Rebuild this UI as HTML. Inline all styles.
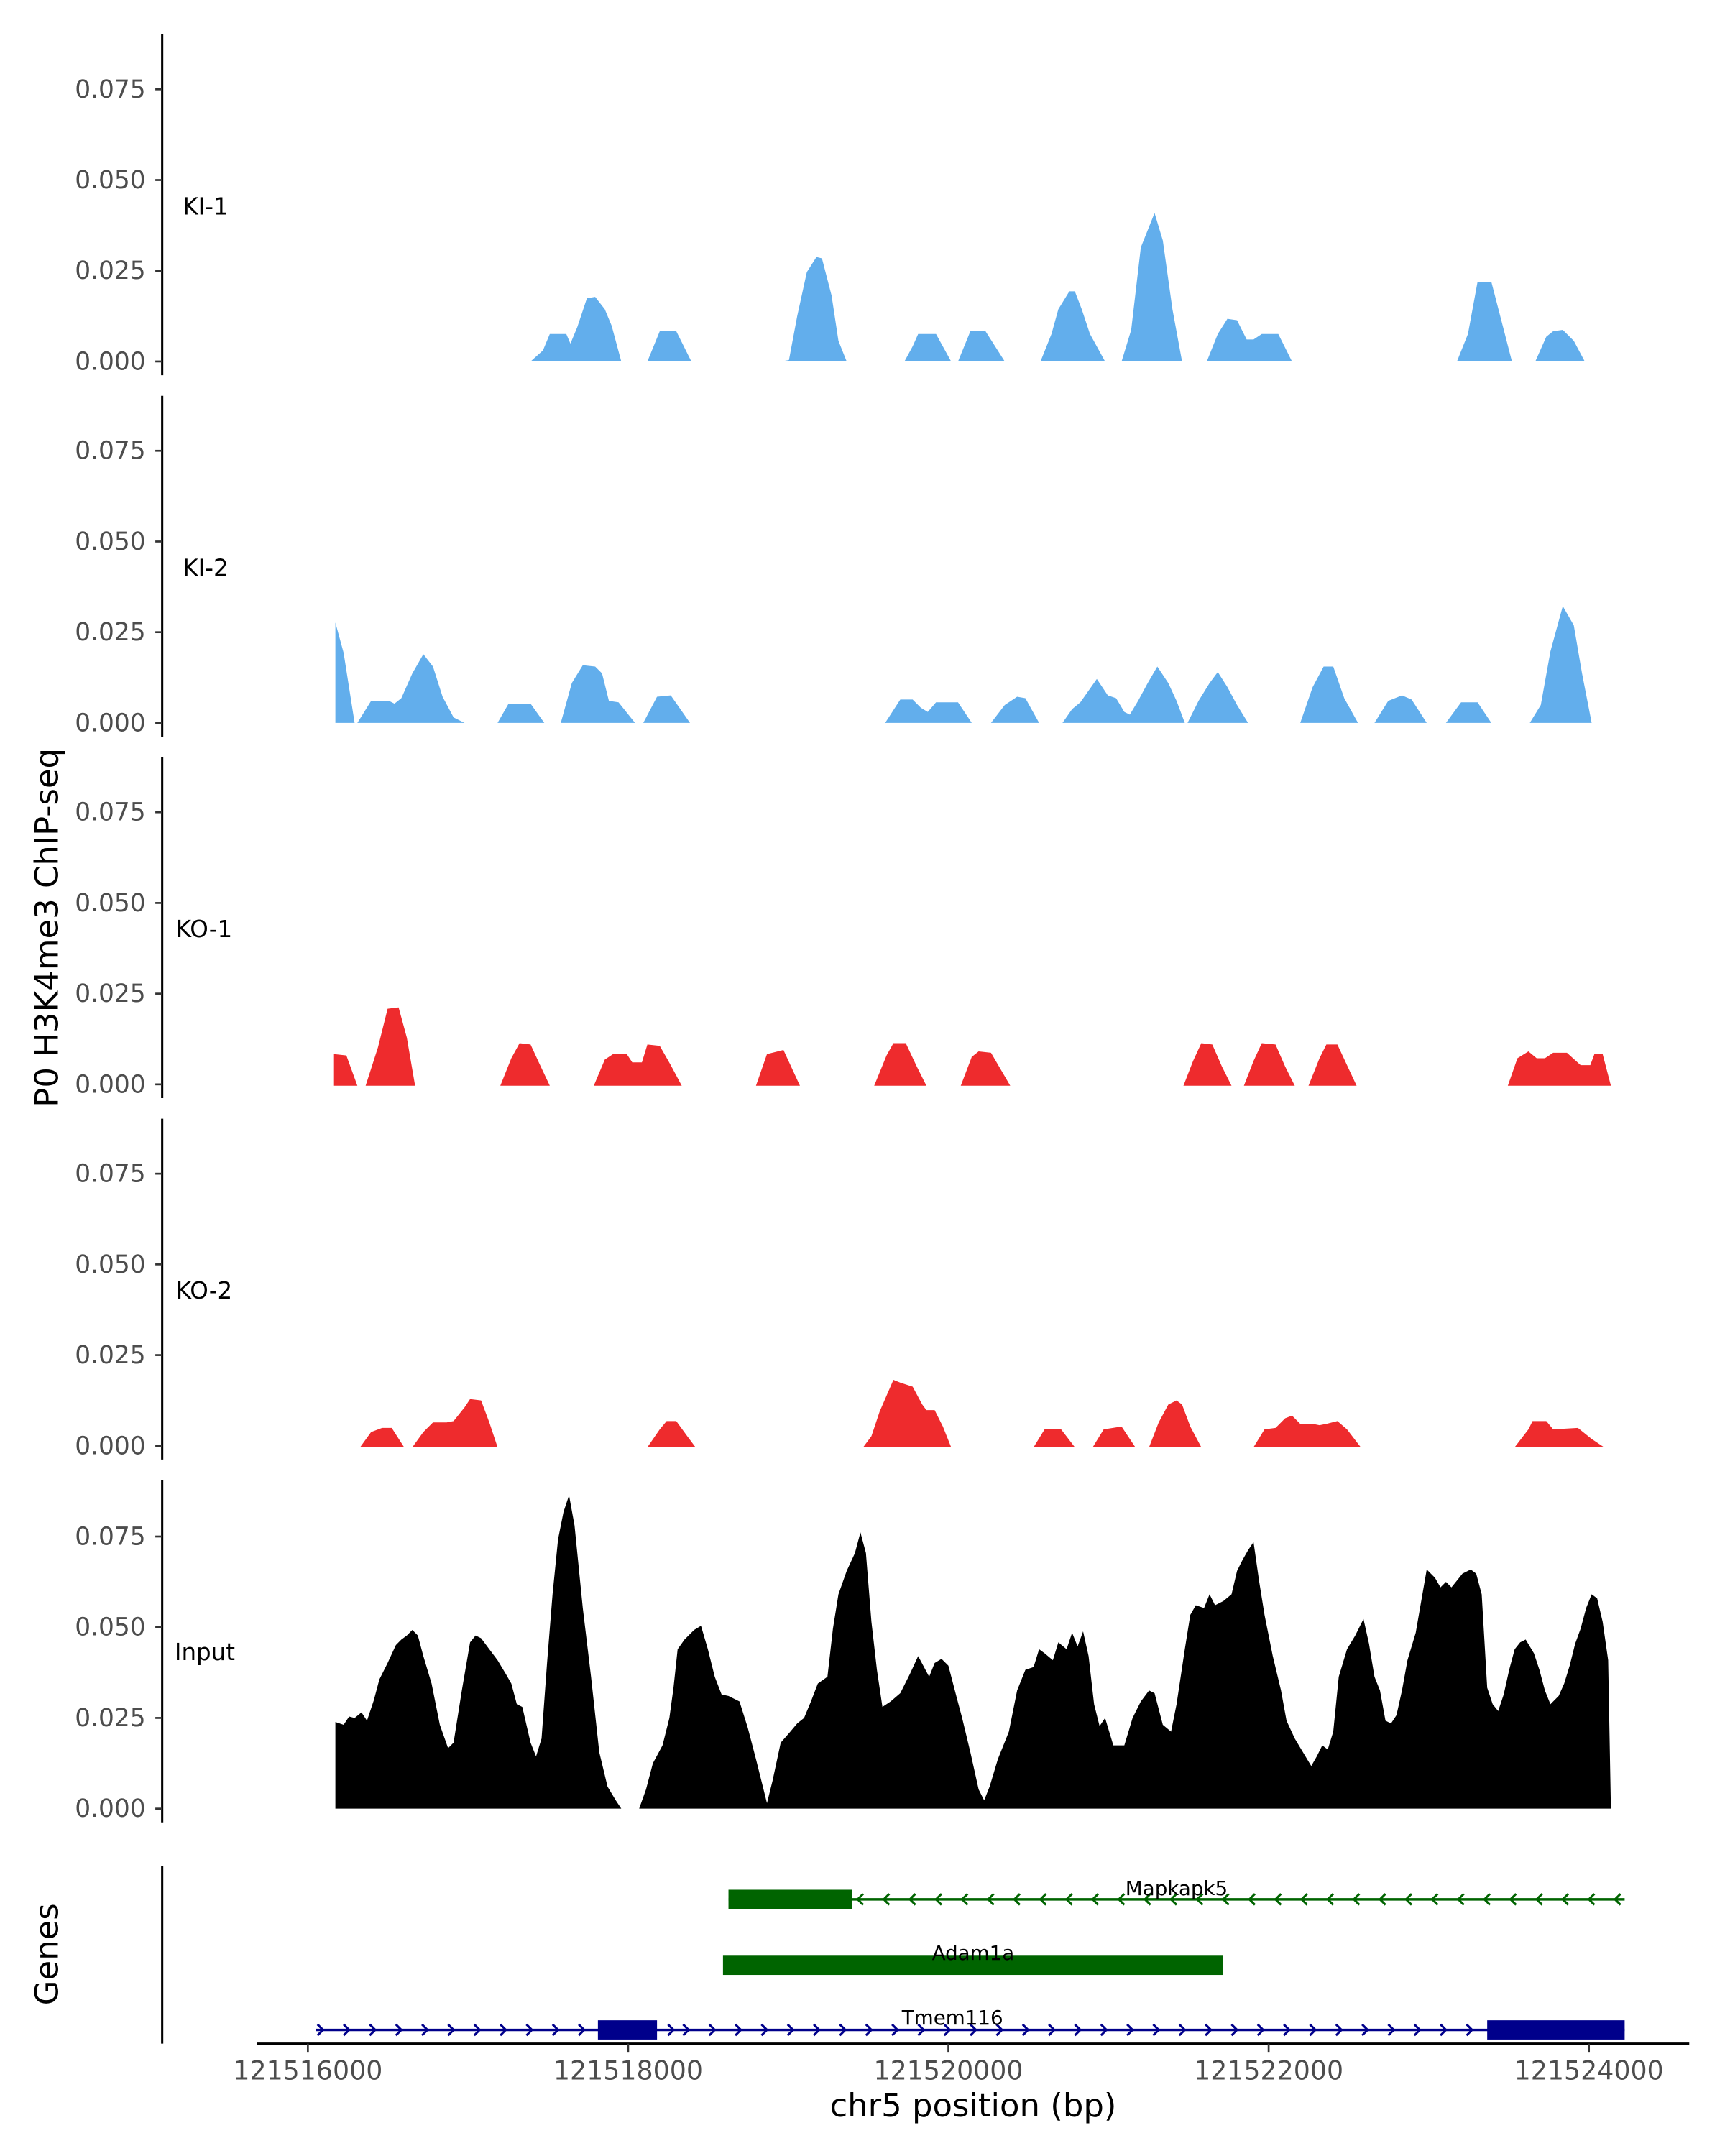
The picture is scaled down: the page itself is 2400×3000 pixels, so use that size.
<!DOCTYPE html>
<html><head><meta charset="utf-8"><style>
html,body{margin:0;padding:0;background:#fff;}
svg{display:block;}
text{font-family:"DejaVu Sans","Liberation Sans",sans-serif;}
.t{font-size:18px;fill:#4d4d4d;text-anchor:end;}
.xl{font-size:19px;fill:#4d4d4d;text-anchor:middle;}
.lab{font-size:17px;fill:#000;}
.ax{stroke:#000;stroke-width:1.6;fill:none;}
.tk{stroke:#333;stroke-width:1.4;}
.b{fill:#62aeec;}
.r{fill:#ee2b2d;}
.g{font-size:14.5px;}
</style></head><body>
<svg width="2400" height="3000" viewBox="0 0 1255 1568.75" preserveAspectRatio="none" xmlns="http://www.w3.org/2000/svg">
<rect width="1255" height="1568.75" fill="#fff"/>
<line class="ax" x1="118" y1="25" x2="118" y2="273"/>
<line class="ax" x1="118" y1="288" x2="118" y2="536"/>
<line class="ax" x1="118" y1="551" x2="118" y2="799"/>
<line class="ax" x1="118" y1="814" x2="118" y2="1062"/>
<line class="ax" x1="118" y1="1077" x2="118" y2="1326"/>
<line class="ax" x1="118" y1="1358" x2="118" y2="1487"/>
<g>
<g id="tk0">
<line class="tk" x1="113" y1="65" x2="118" y2="65"/><line class="tk" x1="113" y1="131" x2="118" y2="131"/><line class="tk" x1="113" y1="197" x2="118" y2="197"/><line class="tk" x1="113" y1="263" x2="118" y2="263"/>
<text class="t" x="106" y="71">0.075</text><text class="t" x="106" y="137">0.050</text><text class="t" x="106" y="203">0.025</text><text class="t" x="106" y="269">0.000</text>
</g>
<use href="#tk0" y="263"/>
<use href="#tk0" y="526"/>
<use href="#tk0" y="789"/>
<use href="#tk0" y="1053"/>
</g>
<text class="lab" x="133" y="156">KI-1</text>
<text class="lab" x="133" y="419">KI-2</text>
<text class="lab" x="128" y="682">KO-1</text>
<text class="lab" x="128" y="945">KO-2</text>
<text class="lab" x="127" y="1208">Input</text>
<text x="42" y="675" transform="rotate(-90 42 675)" text-anchor="middle" style="font-size:23.5px">P0 H3K4me3 ChIP-seq</text>
<text x="42" y="1422" transform="rotate(-90 42 1422)" text-anchor="middle" style="font-size:23.5px">Genes</text>

<g class="b">
<polygon points="386,263 395,255 400,243 412,243 415,250 420,238 427,217 433,216 440,225 445,237 452,263"/>
<polygon points="471,263 480,241 492,241 503,263"/>
<polygon points="568,263 574,262 580,230 587,198 594,187 598,188 605,215 610,248 616,263"/>
<polygon points="658,263 664,252 668,243 681,243 692,263"/>
<polygon points="697,263 706,241 717,241 731,263"/>
<polygon points="757,263 765,243 770,225 778,212 782,212 787,225 793,243 804,263"/>
<polygon points="816,263 823,240 830,180 840,155 846,175 853,225 860,263"/>
<polygon points="878,263 886,243 893,232 900,233 907,247 912,247 918,243 930,243 940,263"/>
<polygon points="1060,263 1068,243 1075,205 1085,205 1092,232 1100,263"/>
<polygon points="1117,263 1125,245 1130,241 1137,240 1145,248 1153,263"/>
</g>
<g class="b">
<polygon points="244,526 244,453 250,475 258,526 260,526 270,510 283,510 287,512 292,508 300,490 308,476 315,485 322,507 330,522 338,526"/>
<polygon points="362,526 370,512 386,512 396,526"/>
<polygon points="408,526 416,497 424,484 433,485 438,490 443,510 450,511 462,526"/>
<polygon points="468,526 478,507 488,506 502,526"/>
<polygon points="644,526 655,509 664,509 670,515 675,518 681,511 697,511 707,526"/>
<polygon points="721,526 731,513 740,507 746,508 756,526"/>
<polygon points="773,526 780,516 786,511 798,494 806,506 812,508 818,518 822,520 828,510 835,497 842,485 850,497 856,510 862,526"/>
<polygon points="864,526 872,510 880,497 886,489 893,500 900,513 908,526"/>
<polygon points="946,526 955,500 963,485 970,485 978,508 988,526"/>
<polygon points="1000,526 1010,510 1020,506 1027,509 1038,526"/>
<polygon points="1052,526 1063,511 1075,511 1085,526"/>
<polygon points="1113,526 1121,513 1128,474 1137,441 1145,455 1151,490 1158,526"/>
</g>
<g class="r">
<polygon points="243,790 243,767 252,768 260,790"/>
<polygon points="266,790 275,762 282,734 290,733 296,755 302,790"/>
<polygon points="364,790 372,770 378,759 386,760 392,773 400,790"/>
<polygon points="432,790 440,771 446,767 456,767 460,773 467,773 471,760 480,761 488,775 496,790"/>
<polygon points="550,790 558,767 570,764 582,790"/>
<polygon points="636,790 645,768 650,759 659,759 667,776 674,790"/>
<polygon points="699,790 707,769 712,765 721,766 735,790"/>
<polygon points="861,790 868,772 874,759 882,760 889,776 896,790"/>
<polygon points="905,790 912,772 918,759 928,760 935,776 942,790"/>
<polygon points="952,790 960,770 965,760 973,760 987,790"/>
<polygon points="1097,790 1104,770 1112,765 1118,770 1124,770 1130,766 1140,766 1150,775 1157,775 1160,767 1166,767 1172,790"/>
</g>
<g class="r">
<polygon points="262,1053 270,1042 278,1039 285,1039 294,1053"/>
<polygon points="300,1053 308,1042 315,1035 325,1035 330,1034 338,1024 342,1018 350,1019 356,1035 362,1053"/>
<polygon points="471,1053 480,1040 485,1034 492,1034 500,1045 506,1053"/>
<polygon points="628,1053 634,1045 640,1027 650,1004 655,1006 664,1009 671,1022 674,1026 680,1026 686,1038 692,1053"/>
<polygon points="752,1053 760,1040 772,1040 782,1053"/>
<polygon points="795,1053 803,1040 816,1038 826,1053"/>
<polygon points="836,1053 843,1035 850,1022 856,1019 860,1022 866,1038 874,1053"/>
<polygon points="912,1053 920,1040 928,1039 935,1032 940,1030 946,1036 955,1036 960,1037 965,1036 973,1034 980,1040 990,1053"/>
<polygon points="1102,1053 1112,1040 1115,1034 1125,1034 1130,1040 1148,1039 1158,1047 1167,1053"/>
</g>
<polygon fill="#000" points="244,1316 244,1253 250,1255 254,1249 258,1250 263,1246 267,1252 272,1237 276,1222 282,1210 288,1197 292,1193 296,1190 300,1186 304,1190 308,1205 314,1225 320,1255 326,1272 330,1268 336,1230 342,1195 346,1190 350,1192 356,1200 362,1208 368,1218 372,1225 376,1240 380,1242 386,1268 390,1278 394,1265 398,1210 402,1160 406,1120 410,1100 414,1088 418,1110 424,1170 430,1220 436,1275 442,1300 448,1310 452,1316"/>
<polygon fill="#000" points="465,1316 470,1302 475,1283 482,1270 487,1250 490,1228 493,1200 498,1193 505,1186 510,1183 515,1200 520,1220 525,1233 530,1234 538,1238 544,1257 550,1280 555,1300 558,1312 562,1296 568,1268 575,1260 580,1254 585,1250 590,1238 595,1225 602,1220 606,1185 610,1160 616,1143 622,1130 626,1115 630,1130 634,1180 638,1215 642,1242 648,1238 655,1232 662,1218 668,1205 676,1220 680,1210 685,1207 690,1212 696,1235 700,1250 706,1275 712,1302 716,1310 720,1300 726,1280 734,1260 740,1230 746,1215 752,1213 756,1200 760,1203 766,1208 770,1195 776,1200 780,1188 784,1198 788,1187 792,1205 796,1240 800,1256 804,1250 810,1270 818,1270 824,1250 830,1238 836,1230 840,1232 846,1255 852,1260 856,1240 862,1200 866,1175 870,1168 876,1170 880,1160 884,1168 890,1165 896,1160 900,1143 904,1135 908,1128 912,1122 916,1150 920,1175 926,1205 932,1230 936,1252 942,1265 948,1275 954,1285 958,1278 962,1270 966,1273 970,1260 974,1220 980,1200 986,1190 992,1178 996,1196 1000,1220 1004,1230 1008,1252 1012,1254 1016,1248 1020,1230 1024,1208 1030,1188 1034,1165 1038,1142 1044,1148 1048,1155 1052,1151 1056,1155 1060,1150 1064,1145 1070,1142 1074,1145 1078,1160 1082,1228 1086,1240 1090,1245 1094,1233 1098,1215 1102,1200 1106,1195 1110,1193 1116,1203 1120,1215 1124,1230 1128,1240 1134,1234 1138,1225 1142,1212 1146,1196 1150,1185 1154,1170 1158,1160 1162,1163 1166,1180 1170,1208 1172,1316"/>

<line x1="530" y1="1382" x2="1182" y2="1382" stroke="#006400" stroke-width="1.8"/>
<rect x="530" y="1375" width="90" height="14" fill="#006400"/>
<g fill="none" stroke="#006400" stroke-width="1.6">
<path d="M628,1378 l-4,4 l4,4 M647,1378 l-4,4 l4,4 M666,1378 l-4,4 l4,4 M685,1378 l-4,4 l4,4 M704,1378 l-4,4 l4,4 M723,1378 l-4,4 l4,4 M742,1378 l-4,4 l4,4 M761,1378 l-4,4 l4,4 M780,1378 l-4,4 l4,4 M799,1378 l-4,4 l4,4 M818,1378 l-4,4 l4,4 M837,1378 l-4,4 l4,4 M856,1378 l-4,4 l4,4 M875,1378 l-4,4 l4,4 M894,1378 l-4,4 l4,4 M913,1378 l-4,4 l4,4 M932,1378 l-4,4 l4,4 M951,1378 l-4,4 l4,4 M970,1378 l-4,4 l4,4 M989,1378 l-4,4 l4,4 M1008,1378 l-4,4 l4,4 M1027,1378 l-4,4 l4,4 M1046,1378 l-4,4 l4,4 M1065,1378 l-4,4 l4,4 M1084,1378 l-4,4 l4,4 M1103,1378 l-4,4 l4,4 M1122,1378 l-4,4 l4,4 M1141,1378 l-4,4 l4,4 M1160,1378 l-4,4 l4,4 M1179,1378 l-4,4 l4,4"/>
</g>
<text class="g" x="856" y="1379" text-anchor="middle">Mapkapk5</text>
<rect x="526" y="1423" width="364" height="14" fill="#006400"/>
<text class="g" x="708" y="1426" text-anchor="middle">Adam1a</text>
<line x1="230" y1="1477" x2="1182" y2="1477" stroke="#00008b" stroke-width="1.8"/>
<rect x="435" y="1470" width="43" height="14" fill="#00008b"/>
<rect x="1082" y="1470" width="100" height="14" fill="#00008b"/>
<g fill="none" stroke="#00008b" stroke-width="1.6">
<path d="M231,1473 l4,4 l-4,4 M250,1473 l4,4 l-4,4 M269,1473 l4,4 l-4,4 M288,1473 l4,4 l-4,4 M307,1473 l4,4 l-4,4 M326,1473 l4,4 l-4,4 M345,1473 l4,4 l-4,4 M364,1473 l4,4 l-4,4 M383,1473 l4,4 l-4,4 M402,1473 l4,4 l-4,4 M421,1473 l4,4 l-4,4 M486,1473 l4,4 l-4,4 M497,1473 l4,4 l-4,4 M516,1473 l4,4 l-4,4 M535,1473 l4,4 l-4,4 M554,1473 l4,4 l-4,4 M573,1473 l4,4 l-4,4 M592,1473 l4,4 l-4,4 M611,1473 l4,4 l-4,4 M630,1473 l4,4 l-4,4 M649,1473 l4,4 l-4,4 M668,1473 l4,4 l-4,4 M687,1473 l4,4 l-4,4 M706,1473 l4,4 l-4,4 M725,1473 l4,4 l-4,4 M744,1473 l4,4 l-4,4 M763,1473 l4,4 l-4,4 M782,1473 l4,4 l-4,4 M801,1473 l4,4 l-4,4 M820,1473 l4,4 l-4,4 M839,1473 l4,4 l-4,4 M858,1473 l4,4 l-4,4 M877,1473 l4,4 l-4,4 M896,1473 l4,4 l-4,4 M915,1473 l4,4 l-4,4 M934,1473 l4,4 l-4,4 M953,1473 l4,4 l-4,4 M972,1473 l4,4 l-4,4 M991,1473 l4,4 l-4,4 M1010,1473 l4,4 l-4,4 M1029,1473 l4,4 l-4,4 M1048,1473 l4,4 l-4,4 M1067,1473 l4,4 l-4,4"/>
</g>
<text class="g" x="693" y="1473" text-anchor="middle">Tmem116</text>

<line class="ax" x1="187" y1="1487" x2="1229" y2="1487"/>
<g class="tk">
<line x1="224" y1="1487" x2="224" y2="1493"/><line x1="457" y1="1487" x2="457" y2="1493"/><line x1="690" y1="1487" x2="690" y2="1493"/><line x1="923" y1="1487" x2="923" y2="1493"/><line x1="1156" y1="1487" x2="1156" y2="1493"/>
</g>
<text class="xl" x="224" y="1513">121516000</text>
<text class="xl" x="457" y="1513">121518000</text>
<text class="xl" x="690" y="1513">121520000</text>
<text class="xl" x="923" y="1513">121522000</text>
<text class="xl" x="1156" y="1513">121524000</text>
<text x="708" y="1540" text-anchor="middle" style="font-size:23.5px">chr5 position (bp)</text>
</svg>
</body></html>
